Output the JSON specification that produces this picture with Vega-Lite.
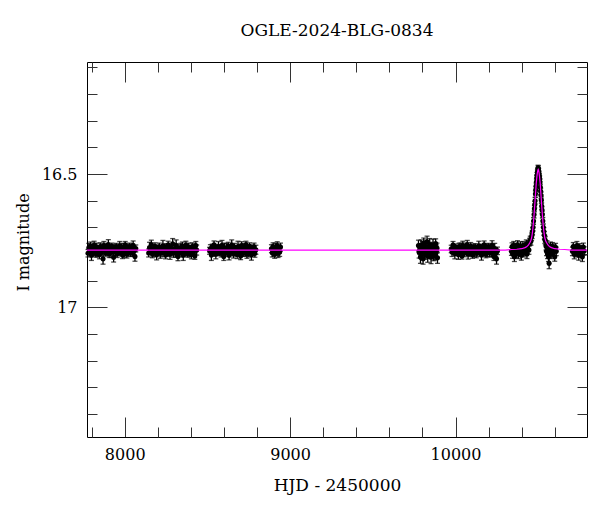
{
"$schema": "https://vega.github.io/schema/vega-lite/v6.json",
"autosize": {"type": "none"},
"padding": {"left": 87, "top": 62, "right": 13, "bottom": 75},
"width": 500,
"height": 375,
"background": "white",
"config": {"view": {"stroke": null}, "axis": {"grid": false}},
"title": {"text": "OGLE-2024-BLG-0834", "font": "DejaVu Serif", "fontSize": 17, "fontWeight": "normal", "color": "black", "anchor": "middle", "frame": "group", "baseline": "alphabetic", "offset": 9},
"datasets": {
"obs": [
{"t":7778,"m":16.797,"e":0.014},{"t":7783,"m":16.777,"e":0.017},{"t":7788,"m":16.788,"e":0.013},{"t":7794,"m":16.770,"e":0.015},{"t":7799,"m":16.805,"e":0.019},
{"t":7804,"m":16.781,"e":0.012},{"t":7810,"m":16.792,"e":0.016},{"t":7815,"m":16.766,"e":0.014},{"t":7820,"m":16.786,"e":0.018},{"t":7826,"m":16.799,"e":0.013},
{"t":7831,"m":16.774,"e":0.015},{"t":7836,"m":16.790,"e":0.020},{"t":7842,"m":16.783,"e":0.012},{"t":7847,"m":16.802,"e":0.016},{"t":7852,"m":16.772,"e":0.014},
{"t":7858,"m":16.794,"e":0.014},{"t":7863,"m":16.779,"e":0.017},{"t":7869,"m":16.818,"e":0.020},{"t":7874,"m":16.768,"e":0.015},{"t":7879,"m":16.785,"e":0.019},
{"t":7885,"m":16.796,"e":0.012},{"t":7890,"m":16.776,"e":0.016},{"t":7895,"m":16.789,"e":0.014},{"t":7901,"m":16.764,"e":0.018},{"t":7906,"m":16.800,"e":0.013},
{"t":7911,"m":16.782,"e":0.015},{"t":7917,"m":16.793,"e":0.020},{"t":7922,"m":16.771,"e":0.012},{"t":7928,"m":16.787,"e":0.016},{"t":7933,"m":16.812,"e":0.018},
{"t":7938,"m":16.778,"e":0.014},{"t":7944,"m":16.791,"e":0.017},{"t":7949,"m":16.773,"e":0.013},{"t":7954,"m":16.798,"e":0.015},{"t":7960,"m":16.784,"e":0.019},
{"t":7965,"m":16.795,"e":0.012},{"t":7970,"m":16.769,"e":0.016},{"t":7976,"m":16.788,"e":0.014},{"t":7981,"m":16.780,"e":0.018},{"t":7987,"m":16.804,"e":0.013},
{"t":7992,"m":16.775,"e":0.015},{"t":7997,"m":16.792,"e":0.020},{"t":8003,"m":16.765,"e":0.012},{"t":8008,"m":16.786,"e":0.016},{"t":8013,"m":16.801,"e":0.014},
{"t":8019,"m":16.777,"e":0.014},{"t":8024,"m":16.790,"e":0.017},{"t":8029,"m":16.772,"e":0.013},{"t":8035,"m":16.794,"e":0.015},{"t":8040,"m":16.782,"e":0.019},
{"t":8046,"m":16.797,"e":0.012},{"t":8051,"m":16.767,"e":0.016},{"t":8056,"m":16.789,"e":0.014},{"t":8062,"m":16.809,"e":0.018},{"t":8067,"m":16.779,"e":0.013},
{"t":8145,"m":16.796,"e":0.015},{"t":8150,"m":16.776,"e":0.020},{"t":8156,"m":16.789,"e":0.012},{"t":8161,"m":16.764,"e":0.016},{"t":8167,"m":16.800,"e":0.014},
{"t":8172,"m":16.782,"e":0.014},{"t":8177,"m":16.793,"e":0.017},{"t":8183,"m":16.771,"e":0.013},{"t":8188,"m":16.787,"e":0.015},{"t":8193,"m":16.803,"e":0.019},
{"t":8199,"m":16.778,"e":0.012},{"t":8204,"m":16.791,"e":0.016},{"t":8209,"m":16.773,"e":0.014},{"t":8215,"m":16.798,"e":0.018},{"t":8220,"m":16.784,"e":0.013},
{"t":8226,"m":16.795,"e":0.015},{"t":8231,"m":16.769,"e":0.020},{"t":8236,"m":16.788,"e":0.012},{"t":8242,"m":16.780,"e":0.016},{"t":8247,"m":16.804,"e":0.014},
{"t":8252,"m":16.775,"e":0.014},{"t":8258,"m":16.792,"e":0.017},{"t":8263,"m":16.765,"e":0.013},{"t":8268,"m":16.786,"e":0.015},{"t":8274,"m":16.801,"e":0.019},
{"t":8279,"m":16.777,"e":0.012},{"t":8285,"m":16.790,"e":0.016},{"t":8290,"m":16.762,"e":0.020},{"t":8295,"m":16.794,"e":0.018},{"t":8301,"m":16.782,"e":0.013},
{"t":8306,"m":16.797,"e":0.015},{"t":8311,"m":16.767,"e":0.020},{"t":8317,"m":16.789,"e":0.012},{"t":8322,"m":16.809,"e":0.016},{"t":8328,"m":16.779,"e":0.014},
{"t":8333,"m":16.797,"e":0.014},{"t":8338,"m":16.777,"e":0.017},{"t":8344,"m":16.788,"e":0.013},{"t":8349,"m":16.770,"e":0.015},{"t":8354,"m":16.805,"e":0.019},
{"t":8360,"m":16.781,"e":0.012},{"t":8365,"m":16.792,"e":0.016},{"t":8370,"m":16.766,"e":0.014},{"t":8376,"m":16.786,"e":0.018},{"t":8381,"m":16.799,"e":0.013},
{"t":8387,"m":16.774,"e":0.015},{"t":8392,"m":16.790,"e":0.020},{"t":8397,"m":16.783,"e":0.012},{"t":8403,"m":16.802,"e":0.016},{"t":8408,"m":16.772,"e":0.014},
{"t":8413,"m":16.794,"e":0.014},{"t":8419,"m":16.779,"e":0.017},{"t":8424,"m":16.807,"e":0.013},{"t":8430,"m":16.768,"e":0.015},{"t":8435,"m":16.785,"e":0.019},
{"t":8513,"m":16.788,"e":0.013},{"t":8518,"m":16.780,"e":0.015},{"t":8524,"m":16.804,"e":0.020},{"t":8529,"m":16.775,"e":0.012},{"t":8535,"m":16.792,"e":0.016},
{"t":8540,"m":16.765,"e":0.014},{"t":8545,"m":16.786,"e":0.014},{"t":8551,"m":16.801,"e":0.017},{"t":8556,"m":16.777,"e":0.013},{"t":8561,"m":16.790,"e":0.015},
{"t":8567,"m":16.772,"e":0.019},{"t":8572,"m":16.794,"e":0.012},{"t":8578,"m":16.782,"e":0.016},{"t":8583,"m":16.797,"e":0.014},{"t":8588,"m":16.767,"e":0.018},
{"t":8594,"m":16.789,"e":0.013},{"t":8599,"m":16.809,"e":0.015},{"t":8604,"m":16.779,"e":0.020},{"t":8610,"m":16.797,"e":0.012},{"t":8615,"m":16.777,"e":0.016},
{"t":8621,"m":16.788,"e":0.014},{"t":8626,"m":16.770,"e":0.014},{"t":8631,"m":16.805,"e":0.017},{"t":8637,"m":16.781,"e":0.013},{"t":8642,"m":16.792,"e":0.015},
{"t":8647,"m":16.766,"e":0.019},{"t":8653,"m":16.786,"e":0.012},{"t":8658,"m":16.799,"e":0.016},{"t":8664,"m":16.774,"e":0.014},{"t":8669,"m":16.790,"e":0.018},
{"t":8674,"m":16.783,"e":0.013},{"t":8680,"m":16.802,"e":0.015},{"t":8685,"m":16.772,"e":0.020},{"t":8690,"m":16.794,"e":0.012},{"t":8696,"m":16.779,"e":0.016},
{"t":8701,"m":16.807,"e":0.014},{"t":8707,"m":16.768,"e":0.014},{"t":8712,"m":16.785,"e":0.017},{"t":8717,"m":16.796,"e":0.013},{"t":8723,"m":16.776,"e":0.015},
{"t":8728,"m":16.789,"e":0.019},{"t":8733,"m":16.764,"e":0.012},{"t":8739,"m":16.800,"e":0.016},{"t":8744,"m":16.782,"e":0.014},{"t":8750,"m":16.793,"e":0.018},
{"t":8755,"m":16.771,"e":0.013},{"t":8760,"m":16.787,"e":0.015},{"t":8766,"m":16.803,"e":0.020},{"t":8771,"m":16.778,"e":0.012},{"t":8776,"m":16.791,"e":0.016},
{"t":8782,"m":16.773,"e":0.014},{"t":8787,"m":16.798,"e":0.014},{"t":8793,"m":16.784,"e":0.017},
{"t":8887,"m":16.780,"e":0.015},{"t":8892,"m":16.795,"e":0.016},{"t":8897,"m":16.772,"e":0.014},{"t":8902,"m":16.790,"e":0.017},{"t":8907,"m":16.801,"e":0.015},
{"t":8912,"m":16.776,"e":0.016},{"t":8917,"m":16.786,"e":0.018},{"t":8922,"m":16.768,"e":0.014},{"t":8927,"m":16.797,"e":0.016},{"t":8932,"m":16.781,"e":0.015},
{"t":8937,"m":16.792,"e":0.017},{"t":8942,"m":16.774,"e":0.015},
{"t":9776,"m":16.768,"e":0.020},{"t":9780,"m":16.793,"e":0.022},{"t":9784,"m":16.782,"e":0.018},{"t":9788,"m":16.811,"e":0.024},{"t":9792,"m":16.766,"e":0.019},
{"t":9796,"m":16.799,"e":0.021},{"t":9800,"m":16.776,"e":0.023},{"t":9804,"m":16.818,"e":0.020},{"t":9808,"m":16.760,"e":0.020},{"t":9812,"m":16.785,"e":0.022},
{"t":9816,"m":16.802,"e":0.018},{"t":9820,"m":16.772,"e":0.024},{"t":9824,"m":16.791,"e":0.019},{"t":9828,"m":16.754,"e":0.021},{"t":9832,"m":16.808,"e":0.023},
{"t":9836,"m":16.781,"e":0.020},{"t":9840,"m":16.797,"e":0.020},{"t":9844,"m":16.764,"e":0.022},{"t":9848,"m":16.788,"e":0.018},{"t":9852,"m":16.812,"e":0.024},
{"t":9856,"m":16.775,"e":0.019},{"t":9860,"m":16.794,"e":0.021},{"t":9864,"m":16.767,"e":0.023},{"t":9868,"m":16.805,"e":0.020},{"t":9872,"m":16.784,"e":0.020},
{"t":9876,"m":16.800,"e":0.022},{"t":9880,"m":16.761,"e":0.018},{"t":9884,"m":16.790,"e":0.024},{"t":9888,"m":16.778,"e":0.019},{"t":9891,"m":16.814,"e":0.021},
{"t":9974,"m":16.781,"e":0.014},{"t":9979,"m":16.792,"e":0.017},{"t":9985,"m":16.766,"e":0.013},{"t":9990,"m":16.786,"e":0.015},{"t":9996,"m":16.799,"e":0.019},
{"t":10001,"m":16.774,"e":0.012},{"t":10006,"m":16.790,"e":0.016},{"t":10012,"m":16.783,"e":0.014},{"t":10017,"m":16.802,"e":0.018},{"t":10022,"m":16.772,"e":0.013},
{"t":10028,"m":16.794,"e":0.015},{"t":10033,"m":16.779,"e":0.020},{"t":10039,"m":16.807,"e":0.012},{"t":10044,"m":16.768,"e":0.016},{"t":10049,"m":16.785,"e":0.014},
{"t":10055,"m":16.796,"e":0.014},{"t":10060,"m":16.776,"e":0.017},{"t":10065,"m":16.789,"e":0.013},{"t":10071,"m":16.764,"e":0.015},{"t":10076,"m":16.800,"e":0.019},
{"t":10082,"m":16.782,"e":0.012},{"t":10087,"m":16.793,"e":0.016},{"t":10092,"m":16.771,"e":0.014},{"t":10098,"m":16.787,"e":0.018},{"t":10103,"m":16.803,"e":0.013},
{"t":10108,"m":16.778,"e":0.015},{"t":10114,"m":16.791,"e":0.020},{"t":10119,"m":16.773,"e":0.012},{"t":10125,"m":16.798,"e":0.016},{"t":10130,"m":16.784,"e":0.014},
{"t":10135,"m":16.795,"e":0.014},{"t":10141,"m":16.769,"e":0.017},{"t":10146,"m":16.788,"e":0.013},{"t":10151,"m":16.780,"e":0.015},{"t":10157,"m":16.804,"e":0.019},
{"t":10162,"m":16.775,"e":0.012},{"t":10168,"m":16.792,"e":0.016},{"t":10173,"m":16.765,"e":0.014},{"t":10178,"m":16.786,"e":0.018},{"t":10184,"m":16.801,"e":0.013},
{"t":10189,"m":16.777,"e":0.015},{"t":10194,"m":16.790,"e":0.020},{"t":10200,"m":16.772,"e":0.012},{"t":10205,"m":16.794,"e":0.016},{"t":10211,"m":16.782,"e":0.014},
{"t":10216,"m":16.797,"e":0.014},{"t":10221,"m":16.767,"e":0.017},{"t":10227,"m":16.789,"e":0.013},{"t":10232,"m":16.809,"e":0.015},{"t":10237,"m":16.779,"e":0.019},
{"t":10243,"m":16.797,"e":0.012},{"t":10248,"m":16.818,"e":0.020},{"t":10254,"m":16.788,"e":0.014},
{"t":10338,"m":16.790,"e":0.015},{"t":10342,"m":16.772,"e":0.014},{"t":10345,"m":16.800,"e":0.016},{"t":10349,"m":16.785,"e":0.013},{"t":10352,"m":16.768,"e":0.015},
{"t":10356,"m":16.810,"e":0.018},{"t":10360,"m":16.790,"e":0.014},{"t":10363,"m":16.775,"e":0.015},{"t":10367,"m":16.798,"e":0.016},{"t":10371,"m":16.782,"e":0.013},
{"t":10375,"m":16.765,"e":0.015},{"t":10380,"m":16.800,"e":0.017},{"t":10384,"m":16.778,"e":0.014},{"t":10389,"m":16.792,"e":0.015},{"t":10393,"m":16.770,"e":0.016},
{"t":10398,"m":16.805,"e":0.018},{"t":10403,"m":16.781,"e":0.014},{"t":10408,"m":16.768,"e":0.015},{"t":10413,"m":16.795,"e":0.016},{"t":10418,"m":16.775,"e":0.014},
{"t":10423,"m":16.790,"e":0.015},{"t":10428,"m":16.762,"e":0.015},{"t":10432,"m":16.800,"e":0.017},{"t":10436,"m":16.776,"e":0.014},{"t":10440,"m":16.765,"e":0.015},
{"t":10444,"m":16.785,"e":0.016},{"t":10448,"m":16.755,"e":0.014},{"t":10452,"m":16.748,"e":0.015},{"t":10456,"m":16.752,"e":0.015},{"t":10460,"m":16.735,"e":0.014},
{"t":10463,"m":16.728,"e":0.014},{"t":10466,"m":16.715,"e":0.013},{"t":10469,"m":16.700,"e":0.013},{"t":10472,"m":16.676,"e":0.013},{"t":10475,"m":16.652,"e":0.013},
{"t":10477,"m":16.630,"e":0.012},{"t":10479,"m":16.615,"e":0.012},{"t":10481,"m":16.600,"e":0.012},{"t":10483,"m":16.575,"e":0.012},{"t":10485,"m":16.560,"e":0.012},
{"t":10487,"m":16.545,"e":0.011},{"t":10489,"m":16.530,"e":0.011},{"t":10491,"m":16.515,"e":0.011},{"t":10493,"m":16.505,"e":0.011},{"t":10495,"m":16.495,"e":0.011},
{"t":10497,"m":16.490,"e":0.011},{"t":10499,"m":16.478,"e":0.011},{"t":10500,"m":16.486,"e":0.011},{"t":10501,"m":16.480,"e":0.011},{"t":10503,"m":16.490,"e":0.011},
{"t":10505,"m":16.500,"e":0.011},{"t":10507,"m":16.508,"e":0.011},{"t":10509,"m":16.518,"e":0.011},{"t":10511,"m":16.530,"e":0.011},{"t":10513,"m":16.550,"e":0.012},
{"t":10515,"m":16.565,"e":0.012},{"t":10517,"m":16.580,"e":0.012},{"t":10519,"m":16.598,"e":0.012},{"t":10521,"m":16.620,"e":0.012},{"t":10523,"m":16.635,"e":0.012},
{"t":10525,"m":16.652,"e":0.013},{"t":10528,"m":16.676,"e":0.013},{"t":10531,"m":16.700,"e":0.013},{"t":10534,"m":16.715,"e":0.014},{"t":10537,"m":16.730,"e":0.014},
{"t":10540,"m":16.745,"e":0.015},{"t":10543,"m":16.750,"e":0.015},{"t":10547,"m":16.770,"e":0.015},{"t":10550,"m":16.790,"e":0.016},{"t":10553,"m":16.765,"e":0.015},
{"t":10556,"m":16.800,"e":0.017},{"t":10559,"m":16.778,"e":0.015},{"t":10562,"m":16.810,"e":0.018},{"t":10566,"m":16.835,"e":0.020},{"t":10570,"m":16.790,"e":0.016},
{"t":10574,"m":16.770,"e":0.015},{"t":10578,"m":16.800,"e":0.017},{"t":10582,"m":16.785,"e":0.015},{"t":10586,"m":16.772,"e":0.015},{"t":10590,"m":16.795,"e":0.016},
{"t":10595,"m":16.780,"e":0.015},{"t":10600,"m":16.810,"e":0.017},{"t":10605,"m":16.775,"e":0.015},{"t":10609,"m":16.790,"e":0.016},
{"t":10707,"m":16.790,"e":0.016},{"t":10712,"m":16.772,"e":0.015},{"t":10718,"m":16.801,"e":0.017},{"t":10723,"m":16.781,"e":0.015},{"t":10729,"m":16.795,"e":0.016},
{"t":10734,"m":16.768,"e":0.015},{"t":10740,"m":16.787,"e":0.016},{"t":10745,"m":16.805,"e":0.018},{"t":10751,"m":16.776,"e":0.015},{"t":10756,"m":16.792,"e":0.016},
{"t":10762,"m":16.783,"e":0.015},{"t":10767,"m":16.810,"e":0.018},{"t":10773,"m":16.774,"e":0.015},{"t":10778,"m":16.789,"e":0.016}
],
"model": [
{"t":7772,"m":16.785},{"t":10300,"m":16.785},{"t":10340,"m":16.783},{"t":10370,"m":16.782},{"t":10400,"m":16.780},
{"t":10420,"m":16.776},{"t":10430,"m":16.773},{"t":10440,"m":16.767},{"t":10450,"m":16.757},{"t":10455,"m":16.750},
{"t":10460,"m":16.740},{"t":10465,"m":16.720},{"t":10470,"m":16.690},{"t":10472,"m":16.675},{"t":10475,"m":16.652},
{"t":10478,"m":16.625},{"t":10480,"m":16.610},{"t":10482,"m":16.590},{"t":10485,"m":16.563},{"t":10488,"m":16.535},
{"t":10490,"m":16.523},{"t":10492,"m":16.510},{"t":10495,"m":16.495},{"t":10498,"m":16.486},{"t":10500,"m":16.483},
{"t":10502,"m":16.486},{"t":10505,"m":16.495},{"t":10508,"m":16.510},{"t":10510,"m":16.523},{"t":10512,"m":16.535},
{"t":10515,"m":16.563},{"t":10518,"m":16.590},{"t":10520,"m":16.610},{"t":10522,"m":16.625},{"t":10525,"m":16.652},
{"t":10528,"m":16.675},{"t":10530,"m":16.690},{"t":10535,"m":16.720},{"t":10540,"m":16.740},{"t":10545,"m":16.750},
{"t":10550,"m":16.757},{"t":10560,"m":16.767},{"t":10570,"m":16.773},{"t":10580,"m":16.776},{"t":10600,"m":16.780},
{"t":10630,"m":16.782},{"t":10660,"m":16.783},{"t":10700,"m":16.785},{"t":10795,"m":16.785}
]
},
"layer": [
{
"data": {"name": "obs"},
"mark": {"type": "errorbar", "color": "black", "thickness": 1.3, "ticks": {"size": 5, "color": "black"}},
"encoding": {
"x": {"field": "t", "type": "quantitative", "scale": {"domain": [7772, 10795], "nice": false, "zero": false},
"axis": {"orient": "bottom", "values": [8000, 9000, 10000], "format": "d", "tickSize": -20, "tickColor": "#333", "labelPadding": 29, "labelFont": "DejaVu Serif", "labelFontSize": 16, "labelColor": "black", "labelFlush": false, "labelOverlap": false, "domainColor": "black", "title": "HJD - 2450000", "titleFont": "DejaVu Serif", "titleFontSize": 17, "titleFontWeight": "normal", "titleColor": "black", "titleY": 53, "titleBaseline": "alphabetic", "grid": false}},
"y": {"field": "m", "type": "quantitative", "scale": {"domain": [16.08, 17.486], "reverse": true, "nice": false, "zero": false},
"axis": {"orient": "left", "values": [16.5, 17], "format": "~g", "tickSize": -20, "tickColor": "#333", "labelPadding": 30, "labelFont": "DejaVu Serif", "labelFontSize": 16, "labelColor": "black", "labelFlush": false, "labelOverlap": false, "domainColor": "black", "title": "I magnitude", "titleFont": "DejaVu Serif", "titleFontSize": 16, "titleFontWeight": "normal", "titleColor": "black", "titleAngle": -90, "titleX": -59, "titleY": 180, "titleAlign": "center", "titleBaseline": "alphabetic", "grid": false}},
"yError": {"field": "e"}
}
},
{
"data": {"name": "obs"},
"mark": {"type": "point", "filled": true, "color": "black", "size": 26, "opacity": 1},
"encoding": {
"x": {"field": "t", "type": "quantitative", "scale": {"domain": [7772, 10795], "nice": false, "zero": false},
"axis": {"orient": "bottom", "values": [7800, 8200, 8400, 8600, 8800, 9200, 9400, 9600, 9800, 10200, 10400, 10600], "tickSize": -10, "tickColor": "#333", "labels": false, "domain": false, "title": null, "grid": false}},
"y": {"field": "m", "type": "quantitative", "scale": {"domain": [16.08, 17.486], "reverse": true, "nice": false, "zero": false},
"axis": {"orient": "left", "values": [16.1, 16.2, 16.3, 16.4, 16.6, 16.7, 16.8, 16.9, 17.1, 17.2, 17.3, 17.4], "tickSize": -10, "tickColor": "#333", "labels": false, "domain": false, "title": null, "grid": false}}
}
},
{
"data": {"name": "model"},
"mark": {"type": "line", "color": "#ff00ff", "strokeWidth": 1.2},
"encoding": {
"x": {"field": "t", "type": "quantitative", "scale": {"domain": [7772, 10795], "nice": false, "zero": false},
"axis": {"orient": "top", "values": [8000, 9000, 10000], "tickSize": -20, "tickColor": "#333", "labels": false, "domainColor": "black", "title": null, "grid": false}},
"y": {"field": "m", "type": "quantitative", "scale": {"domain": [16.08, 17.486], "reverse": true, "nice": false, "zero": false},
"axis": {"orient": "right", "values": [16.5, 17], "tickSize": -20, "tickColor": "#333", "labels": false, "domainColor": "black", "title": null, "grid": false}}
}
},
{
"data": {"name": "model"},
"mark": {"type": "line", "color": "#ff00ff", "strokeWidth": 1, "opacity": 0},
"encoding": {
"x": {"field": "t", "type": "quantitative", "scale": {"domain": [7772, 10795], "nice": false, "zero": false},
"axis": {"orient": "top", "values": [7800, 8200, 8400, 8600, 8800, 9200, 9400, 9600, 9800, 10200, 10400, 10600], "tickSize": -10, "tickColor": "#333", "labels": false, "domain": false, "title": null, "grid": false}},
"y": {"field": "m", "type": "quantitative", "scale": {"domain": [16.08, 17.486], "reverse": true, "nice": false, "zero": false},
"axis": {"orient": "right", "values": [16.1, 16.2, 16.3, 16.4, 16.6, 16.7, 16.8, 16.9, 17.1, 17.2, 17.3, 17.4], "tickSize": -10, "tickColor": "#333", "labels": false, "domain": false, "title": null, "grid": false}}
}
}
],
"resolve": {"axis": {"x": "independent", "y": "independent"}}
}
